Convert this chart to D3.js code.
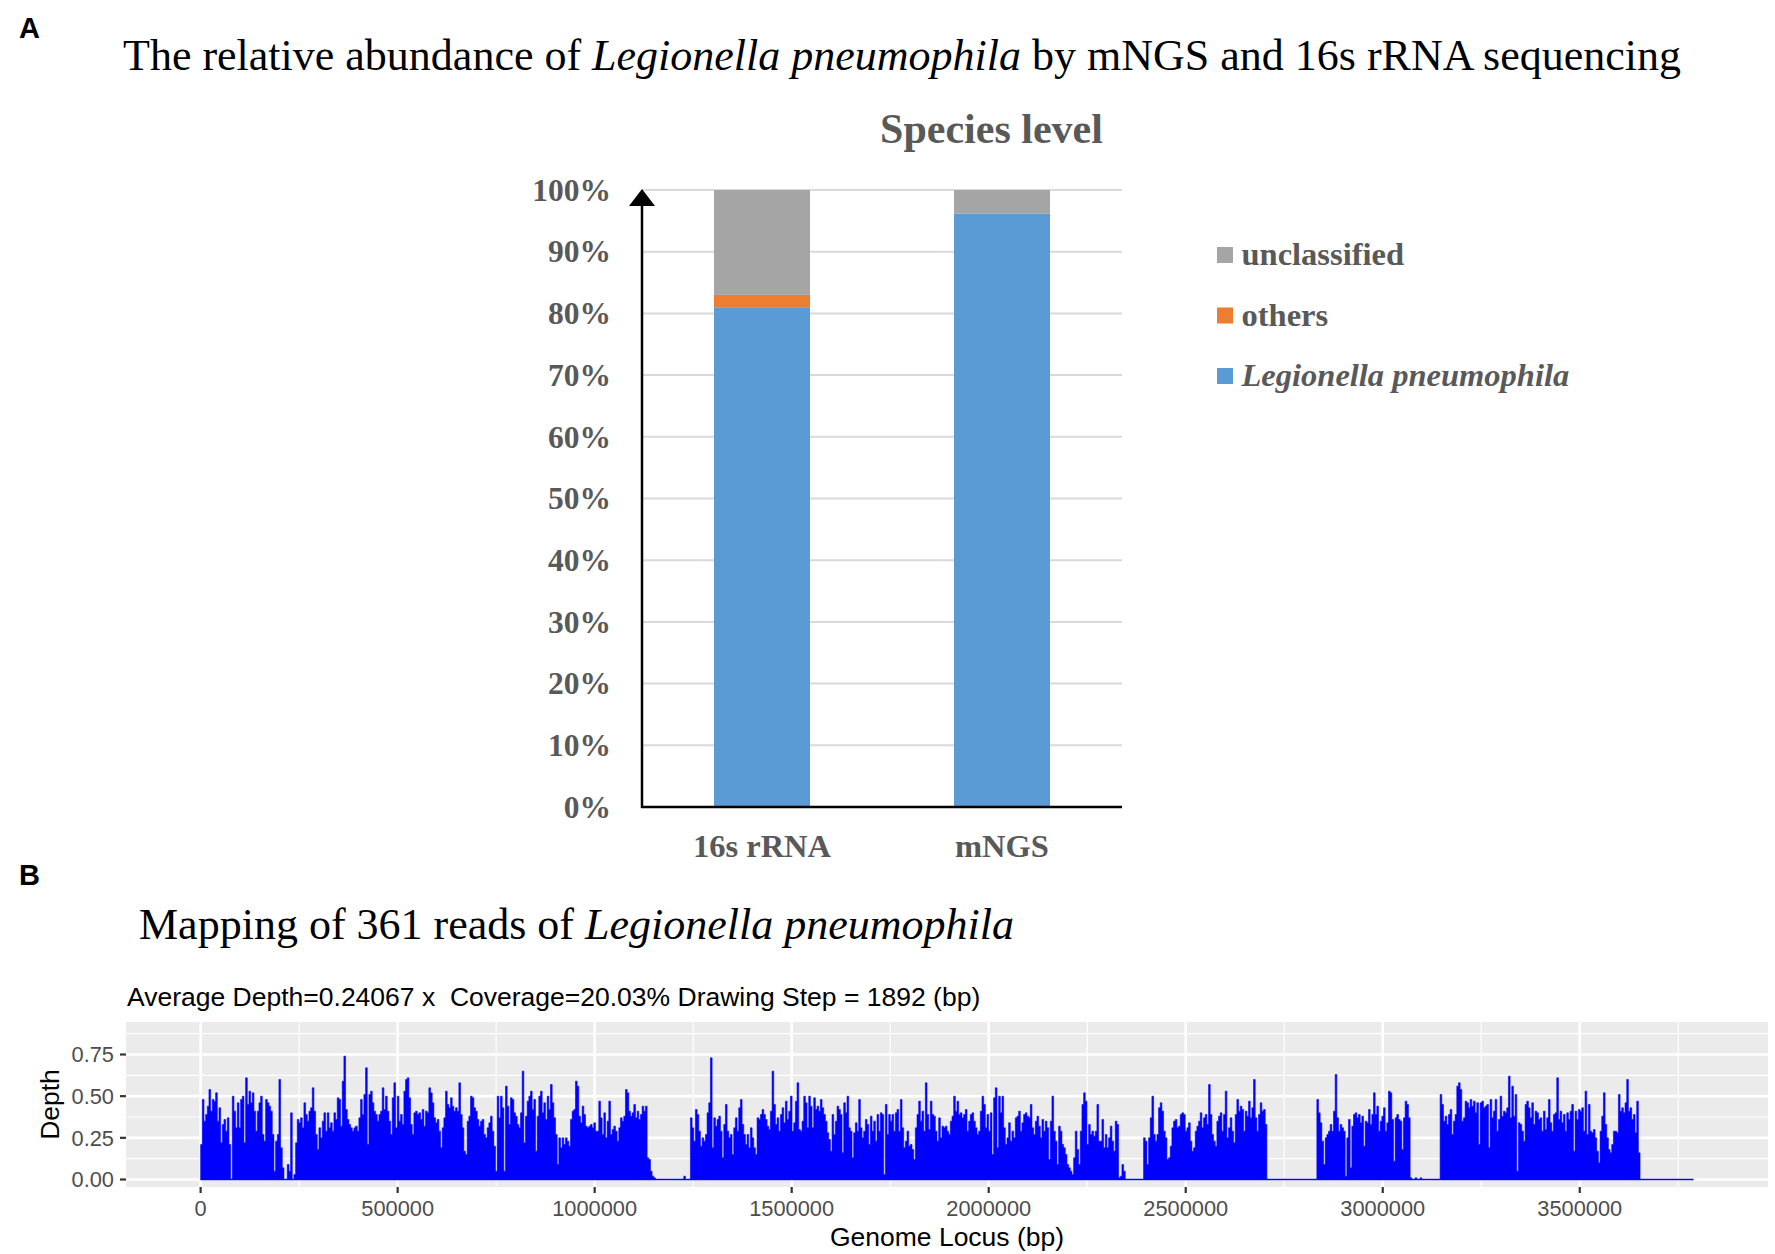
<!DOCTYPE html>
<html>
<head>
<meta charset="utf-8">
<script src="https://cdn.jsdelivr.net/npm/d3@7"></script>
<style>
  body { margin: 0; background: #fff; }
  svg { display: block; }
</style>
</head>
<body>
<svg id="fig" width="1775" height="1254"></svg>
<script>
// ---- panel A data: relative abundance at species level ----
const categories = ["16s rRNA", "mNGS"];
const legionella = [0.81, 0.962];
const others = [0.02, 0.0];
const unclassified = [0.17, 0.038];
const percentTicks = [0, 0.1, 0.2, 0.3, 0.4, 0.5, 0.6, 0.7, 0.8, 0.9, 1.0];

// ---- panel B data: read depth along the genome, sampled every stepBp ----
const stepBp = 4228;
const depthPart1 = [
  .21,.48,.35,.39,.44,.54,.41,.48,.47,.52,
  .35,.43,.22,.33,.36,.29,.37,.21,0,.50,
  .41,.31,.46,.31,.48,.50,.22,.61,.45,.53,
  .46,.52,.41,.29,.41,.46,.50,.27,.23,.48,
  .46,.44,.41,.27,.05,.23,.27,.60,.19,.07,
  0,0,.09,.05,.40,0,.03,.22,.36,.34,
  .37,.31,.46,.39,.35,.41,.43,.55,.41,.27,
  .18,.31,.25,.35,.40,.29,.40,.31,.34,.29,
  .40,.36,.49,.48,.32,.59,.74,.42,.36,.33,
  .31,.29,.31,.32,.29,.37,.48,.39,.51,.67,
  .21,.51,.53,.46,.41,.39,.35,.39,.41,.55,
  .42,.50,.41,.35,.27,.49,.58,.31,.50,.35,
  .39,.33,.53,.60,.61,.49,.33,.27,.40,.41,
  .39,.40,.36,.42,.32,.41,.40,.55,.52,.46,
  .37,.34,.36,.29,.19,.31,.37,.53,.45,.43,
  .49,.44,.41,.43,.41,.58,.39,.31,.17,.15,
  .35,.38,.50,.49,.43,.41,.36,.32,.35,.36,
  .27,.25,.31,.34
];
const depthPart2 = [
  .38,.29,.20,.05,.50,.37,.50,.43,.05,.56,
  .44,.33,.49,.48,.40,.38,.33,.31,.40,.65,
  .22,.38,.47,.50,.53,.42,.48,.17,.38,.50,
  .53,.40,.46,.36,.50,.42,.57,.46,.37,.27,
  .09,.25,.19,.25,.21,.25,.23,.20,.36,.41,
  .42,.59,.56,.38,.34,.44,.39,.32,.31,.32,
  .33,.31,.34,.29,.29,.47,.37,.27,.40,.25,
  .35,.47,.27,.30,.32,.29,.23,.31,.37,.35,
  .38,.54,.52,.41,.38,.40,.45,.37,.41,.36,
  .39,.44,.41,.44,.13,.12,.05,.02,.01,0,
  0,0,0,0,0,0,0,0,0,0,
  0,0,0,0,0,0,.02,0,0,0,
  .37,.31,.23,.42,.39,.29,.20,.25,.23,.27,
  .40,.46,.73,.19,.37,.32,.36,.38,.29,.13,
  .33,.45,.29,.25,.27,.15,.31,.37,.29,.43,
  .48,.33,.27,.21,.27,.19,.31,.25,.19,.15,
  .37,.36,.39,.42,.39,.36,.32,.30,.41,.65,
  .45,.33,.37,.29,.39,.43,.34,.47,.36,.41,
  .50,.29,.34,.47,.58,.30
];
const depthPart3 = [
  .29,.35,.50,.46,.31,.50,.44,.31,.49,.42,
  .44,.41,.48,.43,.39,.35,.28,.24,.17,.39,
  .27,.35,.44,.42,.39,.16,.46,.40,.50,.31,
  .29,.13,.28,.34,.29,.48,.31,.25,.29,.36,
  .33,.21,.38,.29,.35,.23,.39,.29,.40,.39,
  .03,.45,.27,.39,.35,.39,.29,.40,.42,.29,
  .48,.31,.19,.23,.29,.20,.21,.18,.12,.31,
  .39,.47,.35,.41,.29,.58,.39,.30,.47,.39,
  .38,.29,.23,.37,.25,.32,.31,.32,.29,.27,
  .35,.38,.50,.41,.47,.39,.40,.37,.39,.42,
  .29,.35,.39,.40,.35,.31,.27,.29,.41,.50,
  .45,.31,.39,.29,.40,.15,.49,.55,.19,.50,
  .40,.50,.31,.21,.25,.34,.23,.29,.25,.37,
  .38,.41,.29,.34,.39,.40,.38,.37,.45,.31,
  .27,.35,.38,.32,.25,.36,.29,.35,.31,.12,
  .35,.50,.29,.23,.09,.32,.29,.21,.19,.15,
  .09,.07,.05,.03,.13,.29,.18,.09,.29,.45,
  .52,.47,.21,.33,.27,.29,.26,.29,.45,.23
];
const depthPart4 = [
  .23,.36,.19,.27,.19,.25,.32,.23,.17,.35,
  .33,.01,.02,.09,.05,0,0,0,0,0,
  0,0,0,0,0,0,.25,.23,.09,.25,
  .37,.50,.27,.23,.27,.43,.46,.41,.29,.25,
  .12,.13,.20,.31,.35,.36,.31,.32,.39,.40,
  .39,.29,.31,.34,.23,.17,.19,.29,.32,.35,
  .40,.31,.37,.39,.33,.57,.39,.27,.23,.20,
  .35,.38,.40,.29,.39,.53,.25,.31,.37,.29,
  .22,.39,.48,.41,.44,.42,.29,.41,.38,.47,
  .37,.43,.60,.37,.29,.39,.46,.41,.42,.33,
  0,0,0,0,0,0,0,0,0,0,
  0,0,0,0,0,0,0,0,0,0,
  0,0,0,0,0,0,0,0,0,0,
  .48,.40,.34,.23,.09,.25,.27,.29,.33,.29,
  .41,.63,.37,.29,.33,.31,.29,.02,.25,.36,
  .07,.32,.39,.40,.37,.39,.34,.38,.20,.35,
  .34,.42,.33,.39,.52,.39,.44,.29,.35,.38,
  .43,.29,.34,.53,.52,.36,.11,.37,.39,.36
];
const depthPart5 = [
  .35,.18,.37,.47,.45,.37,.01,0,0,.01,
  0,0,.01,0,0,0,0,0,0,0,
  0,0,0,0,.51,.45,.35,.38,.33,.39,
  .42,.27,.35,.39,.56,.58,.54,.35,.37,.47,
  .46,.43,.48,.44,.47,.40,.46,.21,.46,.47,
  .43,.44,.45,.19,.48,.37,.41,.48,.29,.36,
  .50,.38,.41,.40,.43,.62,.37,.56,.38,.51,
  .05,.34,.33,.29,.23,.45,.47,.43,.37,.46,
  .33,.41,.40,.36,.37,.29,.41,.30,.37,.48,
  .34,.29,.39,.40,.61,.36,.41,.34,.39,.29,
  .40,.36,.41,.45,.17,.41,.36,.42,.41,.43,
  .29,.53,.27,.45,.29,.28,.30,.25,.17,.10,
  .29,.38,.52,.33,.25,.18,.16,.21,.29,.29,
  .28,.51,.41,.43,.40,.46,.60,.41,.43,.36,
  .39,.28,.47,.16,0,0,0,0,0,0,
  0,0,0,0,0,0,0,0,0,0,
  0,0,0,0,0,0,0,0,0,0,
  0,0,0,0,0,0
];
const depthMax = 0.9;
const genomeTicks = [0, 500000, 1000000, 1500000, 2000000, 2500000, 3000000, 3500000];
const depthTicks = [0, 0.25, 0.5, 0.75];

const serif = "'Liberation Serif', 'Times New Roman', serif";
const sans = "'Liberation Sans', Arial, sans-serif";
const svg = d3.select("#fig");

// panel letters
svg.append("text").attr("x", 19).attr("y", 38).text("A")
  .style("font", `bold 29px ${sans}`);
svg.append("text").attr("x", 19).attr("y", 885).text("B")
  .style("font", `bold 29px ${sans}`);

// ================= Panel A =================
const titleA = svg.append("text").attr("x", 123).attr("y", 70)
  .style("font-family", serif).style("font-size", "44px");
titleA.append("tspan").text("The relative abundance of ");
titleA.append("tspan").attr("font-style", "italic").text("Legionella pneumophila");
titleA.append("tspan").text(" by mNGS and 16s rRNA sequencing");

svg.append("text").attr("x", 991.5).attr("y", 143).attr("text-anchor", "middle")
  .attr("fill", "#595959").style("font", `bold 42px ${serif}`)
  .text("Species level");

const xA = d3.scaleBand().domain(categories).range([642, 1122])
  .paddingInner(0.6).paddingOuter(0.3);
const yA = d3.scaleLinear().domain([0, 1]).range([807, 190]);

const gA = svg.append("g");

// gridlines
gA.selectAll(".gridA").data(percentTicks.filter(d => d > 0)).join("line")
  .attr("x1", 642).attr("x2", 1122)
  .attr("y1", d => yA(d)).attr("y2", d => yA(d))
  .attr("stroke", "#D9D9D9").attr("stroke-width", 2);

// stacked bars
const seriesKeys = ["legionella", "others", "unclassified"];
const seriesColor = { legionella: "#5B9BD5", others: "#ED7D31", unclassified: "#A5A5A5" };
const tableA = categories.map((c, i) => ({
  category: c, legionella: legionella[i], others: others[i], unclassified: unclassified[i]
}));
const stacked = d3.stack().keys(seriesKeys)(tableA);

gA.selectAll(".layer").data(stacked).join("g")
  .attr("fill", d => seriesColor[d.key])
  .selectAll("rect").data(d => d).join("rect")
  .attr("x", d => xA(d.data.category))
  .attr("width", xA.bandwidth())
  .attr("y", d => yA(d[1]))
  .attr("height", d => yA(d[0]) - yA(d[1]));

// axes with arrow
const arrowBase = yA(1) + 16;
gA.append("line").attr("x1", 642).attr("x2", 642)
  .attr("y1", yA(0) + 1).attr("y2", arrowBase)
  .attr("stroke", "#000").attr("stroke-width", 2.5);
gA.append("path")
  .attr("d", `M${642 - 13},${arrowBase} L642,${yA(1) - 1} L${642 + 13},${arrowBase} Z`)
  .attr("fill", "#000");
gA.append("line").attr("x1", 641).attr("x2", 1122)
  .attr("y1", yA(0)).attr("y2", yA(0))
  .attr("stroke", "#000").attr("stroke-width", 2.5);

// tick labels
gA.selectAll(".tickA").data(percentTicks).join("text")
  .attr("x", 611).attr("y", d => yA(d)).attr("dy", "0.34em")
  .attr("text-anchor", "end").attr("fill", "#595959")
  .style("font", `bold 31.5px ${serif}`)
  .text(d => d3.format(".0%")(d));

gA.selectAll(".catA").data(categories).join("text")
  .attr("x", d => xA(d) + xA.bandwidth() / 2).attr("y", 857)
  .attr("text-anchor", "middle").attr("fill", "#595959")
  .style("font", `bold 32.5px ${serif}`)
  .text(d => d);

// legend
const legendItems = [
  { key: "unclassified", label: "unclassified", italic: false },
  { key: "others", label: "others", italic: false },
  { key: "legionella", label: "Legionella pneumophila", italic: true }
];
const lg = gA.selectAll(".legA").data(legendItems).join("g")
  .attr("transform", (d, i) => `translate(1217,${255 + i * 60.5})`);
lg.append("rect").attr("x", 0).attr("y", -8).attr("width", 16).attr("height", 16)
  .attr("fill", d => seriesColor[d.key]);
lg.append("text").attr("x", 24.5).attr("y", 10)
  .attr("fill", "#595959")
  .style("font", d => `${d.italic ? "italic " : ""}bold 32.5px ${serif}`)
  .text(d => d.label);

// ================= Panel B =================
const titleB = svg.append("text").attr("x", 139).attr("y", 939)
  .style("font-family", serif).style("font-size", "44px");
titleB.append("tspan").text("Mapping of 361 reads of ");
titleB.append("tspan").attr("font-style", "italic").text("Legionella pneumophila");

svg.append("text").attr("x", 127).attr("y", 1006)
  .style("font", `26.5px ${sans}`)
  .text("Average Depth=0.24067 x  Coverage=20.03% Drawing Step = 1892 (bp)")
  .attr("xml:space", "preserve").style("white-space", "pre");

const depth = [].concat(depthPart1, depthPart2, depthPart3, depthPart4, depthPart5);
const genomeLength = depth.length * stepBp;
const points = depth.map((v, i) => ({ bp: i * stepBp, v }));
points.push({ bp: genomeLength, v: depth[depth.length - 1] });

const panel = { left: 126, right: 1768, top: 1022, bottom: 1187 };
const xB = d3.scaleLinear()
  .domain([-0.05 * genomeLength, 1.05 * genomeLength])
  .range([panel.left, panel.right]);
const yB = d3.scaleLinear()
  .domain([-0.05 * depthMax, 1.05 * depthMax])
  .range([panel.bottom, panel.top]);

const gB = svg.append("g");
gB.append("rect").attr("x", panel.left).attr("y", panel.top)
  .attr("width", panel.right - panel.left).attr("height", panel.bottom - panel.top)
  .attr("fill", "#EBEBEB");

// minor + major grid
const xMinor = genomeTicks.map(d => d + 250000).filter(d => d < xB.domain()[1]);
const yMinor = depthTicks.map(d => d + 0.125).filter(d => d < yB.domain()[1]);
gB.selectAll(".xminor").data(xMinor).join("line")
  .attr("x1", d => xB(d)).attr("x2", d => xB(d))
  .attr("y1", panel.top).attr("y2", panel.bottom)
  .attr("stroke", "#fff").attr("stroke-width", 1.2);
gB.selectAll(".yminor").data(yMinor).join("line")
  .attr("x1", panel.left).attr("x2", panel.right)
  .attr("y1", d => yB(d)).attr("y2", d => yB(d))
  .attr("stroke", "#fff").attr("stroke-width", 1.2);
gB.selectAll(".xmajor").data(genomeTicks).join("line")
  .attr("x1", d => xB(d)).attr("x2", d => xB(d))
  .attr("y1", panel.top).attr("y2", panel.bottom)
  .attr("stroke", "#fff").attr("stroke-width", 2.6);
gB.selectAll(".ymajor").data(depthTicks).join("line")
  .attr("x1", panel.left).attr("x2", panel.right)
  .attr("y1", d => yB(d)).attr("y2", d => yB(d))
  .attr("stroke", "#fff").attr("stroke-width", 2.6);

// depth profile
const area = d3.area().curve(d3.curveStepAfter)
  .x(d => xB(d.bp)).y0(yB(0)).y1(d => yB(d.v));
gB.append("path").datum(points).attr("d", area)
  .attr("fill", "#0000FF").attr("stroke", "#0000FF").attr("stroke-width", 0.6);
gB.append("line").attr("x1", xB(0)).attr("x2", xB(genomeLength))
  .attr("y1", yB(0)).attr("y2", yB(0))
  .attr("stroke", "#0000FF").attr("stroke-width", 1.5);

// ticks and labels
gB.selectAll(".xtick").data(genomeTicks).join("line")
  .attr("x1", d => xB(d)).attr("x2", d => xB(d))
  .attr("y1", panel.bottom).attr("y2", panel.bottom + 6)
  .attr("stroke", "#333").attr("stroke-width", 2.2);
gB.selectAll(".xlab").data(genomeTicks).join("text")
  .attr("x", d => xB(d)).attr("y", 1216).attr("text-anchor", "middle")
  .attr("fill", "#4D4D4D").style("font", `21.8px ${sans}`)
  .text(d => d3.format("d")(d));
gB.selectAll(".ytick").data(depthTicks).join("line")
  .attr("x1", panel.left - 6).attr("x2", panel.left)
  .attr("y1", d => yB(d)).attr("y2", d => yB(d))
  .attr("stroke", "#333").attr("stroke-width", 2.2);
gB.selectAll(".ylab").data(depthTicks).join("text")
  .attr("x", 114).attr("y", d => yB(d)).attr("dy", "0.36em")
  .attr("text-anchor", "end")
  .attr("fill", "#4D4D4D").style("font", `21.8px ${sans}`)
  .text(d => d3.format(".2f")(d));

svg.append("text").attr("x", (panel.left + panel.right) / 2).attr("y", 1246)
  .attr("text-anchor", "middle").style("font", `26.5px ${sans}`)
  .text("Genome Locus (bp)");
svg.append("text")
  .attr("transform", `translate(59,${(panel.top + panel.bottom) / 2}) rotate(-90)`)
  .attr("text-anchor", "middle").style("font", `26.5px ${sans}`)
  .text("Depth");
</script>
</body>
</html>
